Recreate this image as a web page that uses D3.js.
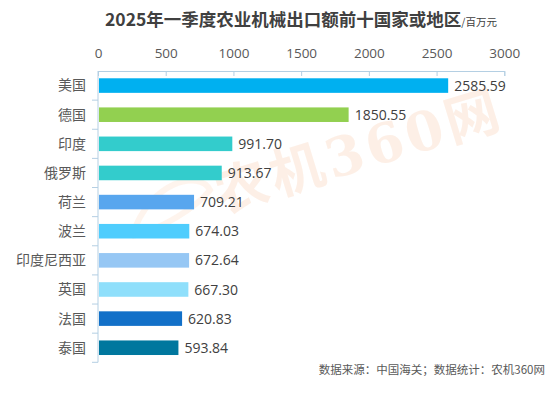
<!DOCTYPE html>
<html>
<head>
<meta charset="utf-8">
<script src="https://cdn.jsdelivr.net/npm/d3@7"></script>
<style>
  body { margin: 0; background: #fff; }
  svg { display: block; }
</style>
</head>
<body>
<div class="chart"></div>
<script>
// frame size
let FRAME_WIDTH = 554;
let FRAME_HEIGHT = 397;
let MARGINS = {left: 98, right: 50, top: 71, bottom: 35};

// data
const countries = ["美国", "德国", "印度", "俄罗斯", "荷兰", "波兰", "印度尼西亚", "英国", "法国", "泰国"];
const exportValues = [2585.59, 1850.55, 991.70, 913.67, 709.21, 674.03, 672.64, 667.30, 620.83, 593.84];
const barColors = ["#00b0f0", "#92d050", "#33cccc", "#33cccc", "#58a6ee", "#4fcdfd", "#96c7f4", "#8fdffb", "#1270c8", "#00779e"];
const xTicks = [0, 500, 1000, 1500, 2000, 2500, 3000];

const CJK = "'Noto Sans CJK SC', 'Noto Sans', sans-serif";
const NUM = "'Open Sans', 'Noto Sans CJK SC', sans-serif";

let svg = d3.select(".chart")
  .append("svg")
  .attr("width", FRAME_WIDTH)
  .attr("height", FRAME_HEIGHT);

// watermark
svg.append("text")
  .attr("transform", "translate(360,156) rotate(-17)")
  .attr("text-anchor", "middle")
  .attr("dominant-baseline", "middle")
  .attr("font-family", "'DejaVu Serif', 'Noto Sans CJK SC', serif")
  .attr("font-weight", "bold")
  .attr("font-size", "54px")
  .attr("letter-spacing", "4px")
  .attr("fill", "#fbd9c2")
  .attr("opacity", 0.4)
  .text("农机360网");

svg.append("path")
  .attr("d", "M132,236 C150,180 200,170 210,190 C196,208 160,230 132,236")
  .attr("fill", "none")
  .attr("stroke", "#fbd9c2")
  .attr("stroke-width", 6)
  .attr("opacity", 0.3);

const xScale = d3.scaleLinear()
  .domain([0, 3000])
  .range([MARGINS.left, 504.3]);

const yScale = d3.scaleBand()
  .domain(countries)
  .range([MARGINS.top, 362.3])
  .paddingInner(0.5)
  .paddingOuter(0.25);

// title
let title = svg.append("text")
  .attr("x", 105)
  .attr("y", 26)
  .attr("font-family", CJK)
  .attr("fill", "#404040");
title.append("tspan")
  .attr("font-weight", "bold")
  .attr("font-size", "17.5px")
  .text("2025年一季度农业机械出口额前十国家或地区");
title.append("tspan")
  .attr("font-size", "10.5px")
  .text("/百万元");

// top axis
let xAxis = svg.append("g")
  .attr("transform", "translate(0," + MARGINS.top + ")")
  .call(d3.axisTop(xScale).tickValues(xTicks).tickFormat(d3.format("d"))
    .tickSizeInner(-5).tickSizeOuter(-5).tickPadding(13));
xAxis.select(".domain").attr("stroke", "#b4cfe3");
xAxis.selectAll(".tick line").attr("stroke", "#b4cfe3");
xAxis.selectAll(".tick text")
  .attr("font-family", NUM)
  .attr("font-size", "13.5px")
  .attr("fill", "#595959");

// left axis with band boundary ticks
svg.append("line")
  .attr("x1", MARGINS.left).attr("x2", MARGINS.left)
  .attr("y1", MARGINS.top).attr("y2", 362.3)
  .attr("stroke", "#b4cfe3");
svg.selectAll(".band-tick")
  .data(countries)
  .enter().append("line")
  .attr("class", "band-tick")
  .attr("x1", MARGINS.left - 6).attr("x2", MARGINS.left)
  .attr("y1", d => yScale(d) - yScale.step() * 0.25 + yScale.step())
  .attr("y2", d => yScale(d) - yScale.step() * 0.25 + yScale.step())
  .attr("stroke", "#b4cfe3");

// category labels
svg.selectAll(".cat")
  .data(countries)
  .enter().append("text")
  .attr("class", "cat")
  .attr("x", 86)
  .attr("y", d => yScale(d) + yScale.bandwidth() / 2)
  .attr("dy", "0.35em")
  .attr("text-anchor", "end")
  .attr("font-family", CJK)
  .attr("font-size", "14px")
  .attr("fill", "#595959")
  .text(d => d);

// bars
svg.selectAll(".bar")
  .data(exportValues)
  .enter().append("rect")
  .attr("class", "bar")
  .attr("x", xScale(0) + 1)
  .attr("y", (d, i) => yScale(countries[i]))
  .attr("width", d => xScale(d) - xScale(0) - 1)
  .attr("height", yScale.bandwidth())
  .attr("fill", (d, i) => barColors[i]);

// value labels
svg.selectAll(".val")
  .data(exportValues)
  .enter().append("text")
  .attr("class", "val")
  .attr("x", d => xScale(d) + 6)
  .attr("y", (d, i) => yScale(countries[i]) + yScale.bandwidth() / 2)
  .attr("dy", "0.36em")
  .attr("font-family", NUM)
  .attr("font-size", "14px")
  .attr("fill", "#404040")
  .text(d => d.toFixed(2));

// source note
svg.append("text")
  .attr("x", 545)
  .attr("y", 374)
  .attr("text-anchor", "end")
  .attr("font-family", CJK)
  .attr("font-size", "11.5px")
  .attr("fill", "#595959")
  .text("数据来源：中国海关；数据统计：农机360网");
</script>
</body>
</html>
